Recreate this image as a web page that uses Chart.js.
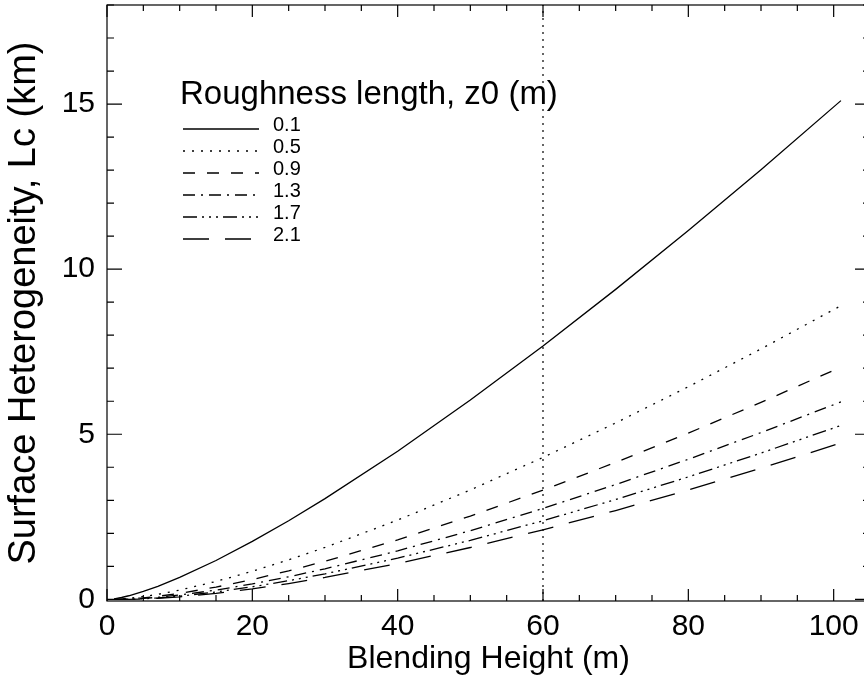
<!DOCTYPE html>
<html>
<head>
<meta charset="utf-8">
<script src="https://cdn.jsdelivr.net/npm/chart.js@4"></script>
<style>
  html, body { margin: 0; padding: 0; overflow: hidden; background: #fff; }
  #wrap { width: 872px; height: 682px; }
</style>
</head>
<body>
<div id="wrap"><canvas id="chartLc" width="872" height="682"></canvas></div>
<script>
// Blending height (m) and Lc (km) for each roughness length
const heights = [1, 2, 3, 5, 7, 10, 15, 20, 25, 30, 40, 50, 60, 70, 80, 90, 101];
const z0Labels = ["0.1", "0.5", "0.9", "1.3", "1.7", "2.1"];
const lcZ01 = [0.017, 0.056, 0.109, 0.239, 0.395, 0.663, 1.177, 1.754, 2.382, 3.050, 4.487, 6.035, 7.673, 9.388, 11.171, 13.014, 15.104];
const lcZ05 = [0.002, 0.012, 0.030, 0.083, 0.152, 0.280, 0.542, 0.851, 1.196, 1.572, 2.400, 3.314, 4.298, 5.342, 6.439, 7.584, 8.894];
const lcZ09 = [0.000, 0.004, 0.014, 0.046, 0.092, 0.181, 0.371, 0.601, 0.863, 1.153, 1.800, 2.522, 3.307, 4.147, 5.034, 5.965, 7.033];
const lcZ13 = [0.000, 0.001, 0.007, 0.028, 0.062, 0.130, 0.280, 0.467, 0.683, 0.924, 1.468, 2.081, 2.753, 3.476, 4.243, 5.050, 5.980];
const lcZ17 = [0.001, 0.000, 0.003, 0.018, 0.044, 0.098, 0.222, 0.380, 0.565, 0.773, 1.247, 1.786, 2.381, 3.024, 3.708, 4.431, 5.266];
const lcZ21 = [0.002, 0.000, 0.001, 0.012, 0.032, 0.076, 0.181, 0.317, 0.479, 0.663, 1.086, 1.570, 2.107, 2.690, 3.313, 3.972, 4.735];
const xTicks = [0, 20, 40, 60, 80, 100];
const yTicks = [0, 5, 10, 15];
const markerHeight = 60;

const series = [lcZ01, lcZ05, lcZ09, lcZ13, lcZ17, lcZ21];
const dashes = [[], [2, 7], [12, 12], [12, 6, 2, 6], [14, 5, 2, 5, 2, 5, 2, 5], [26, 16]];

const X_MIN = 0, X_MAX = 105, Y_MIN = -0.05, Y_MAX = 18;
const FONT = "'Liberation Sans', Arial, sans-serif";

const datasets = series.map((vals, i) => ({
  label: z0Labels[i],
  data: heights.map((h, j) => ({ x: h, y: vals[j] })),
  borderColor: "#000",
  borderWidth: 1.3,
  borderDash: dashes[i],
  pointRadius: 0,
  tension: 0,
  fill: false,
}));

datasets.push({
  label: "marker",
  data: [{ x: markerHeight, y: Y_MIN }, { x: markerHeight, y: Y_MAX }],
  borderColor: "#000",
  borderWidth: 1.2,
  borderDash: [2, 5],
  pointRadius: 0,
  fill: false,
});

// IDL-style box with inward ticks on all four sides
const boxTicks = {
  id: "boxTicks",
  afterDatasetsDraw(chart) {
    const { ctx, chartArea: a, scales } = chart;
    const xs = scales.x, ys = scales.y;
    ctx.save();
    ctx.strokeStyle = "#000";
    ctx.lineWidth = 1.2;
    ctx.strokeRect(a.left, a.top, a.right - a.left, a.bottom - a.top);
    ctx.beginPath();
    for (let v = X_MIN; v <= X_MAX; v += 5) {
      const px = xs.getPixelForValue(v);
      const len = v % 20 === 0 ? 12 : 6;
      ctx.moveTo(px, a.bottom); ctx.lineTo(px, a.bottom - len);
      ctx.moveTo(px, a.top); ctx.lineTo(px, a.top + len);
    }
    for (let v = 0; v <= Y_MAX; v += 1) {
      const py = ys.getPixelForValue(v);
      const len = v % 5 === 0 ? 15 : 7;
      ctx.moveTo(a.left, py); ctx.lineTo(a.left + len, py);
      ctx.moveTo(a.right, py); ctx.lineTo(a.right - len, py);
    }
    ctx.stroke();
    ctx.restore();
  },
};

// legend in the upper left
const roughLegend = {
  id: "roughLegend",
  afterDraw(chart) {
    const ctx = chart.ctx;
    ctx.save();
    ctx.fillStyle = "#000";
    ctx.font = "33px " + FONT;
    ctx.textBaseline = "alphabetic";
    ctx.fillText("Roughness length, z0 (m)", 180, 104);
    ctx.font = "20px " + FONT;
    ctx.textBaseline = "middle";
    z0Labels.forEach((lab, i) => {
      const y = 125 + i * 22;
      ctx.strokeStyle = "#000";
      ctx.lineWidth = 1.3;
      ctx.setLineDash(dashes[i]);
      ctx.beginPath();
      ctx.moveTo(183, y + 4);
      ctx.lineTo(259, y + 4);
      ctx.stroke();
      ctx.fillText(lab, 273, y);
    });
    ctx.restore();
  },
};

const ctxLc = document.getElementById("chartLc").getContext("2d");
const lcChart = new Chart(ctxLc, {
  type: "line",
  data: { datasets: datasets },
  plugins: [boxTicks, roughLegend],
  options: {
    responsive: false,
    animation: false,
    layout: { padding: { left: 0, right: 2, top: 5, bottom: 0 } },
    plugins: { legend: { display: false }, tooltip: { enabled: false } },
    scales: {
      x: {
        type: "linear",
        min: X_MIN,
        max: X_MAX,
        afterBuildTicks: (scale) => { scale.ticks = xTicks.map((v) => ({ value: v })); },
        afterFit: (scale) => {
          scale.height = 81;
          scale.paddingLeft = 0;
          scale.paddingRight = 0;
        },
        grid: { display: false, drawTicks: false },
        border: { display: false },
        ticks: { color: "#000", font: { family: FONT, size: 30 }, padding: 8, maxRotation: 0 },
        title: {
          display: true,
          text: "Blending Height (m)",
          color: "#000",
          font: { family: FONT, size: 32 },
          padding: { top: 0, bottom: 4 },
        },
      },
      y: {
        type: "linear",
        min: Y_MIN,
        max: Y_MAX,
        afterBuildTicks: (scale) => { scale.ticks = yTicks.map((v) => ({ value: v })); },
        afterFit: (scale) => {
          scale.width = 107;
          scale.paddingTop = 0;
          scale.paddingBottom = 0;
        },
        grid: { display: false, drawTicks: false },
        border: { display: false },
        ticks: { color: "#000", font: { family: FONT, size: 30 }, padding: 12 },
        title: {
          display: true,
          text: "Surface Heterogeneity, Lc (km)",
          color: "#000",
          font: { family: FONT, size: 38 },
          padding: { top: 2, bottom: 0 },
        },
      },
    },
  },
});
</script>
</body>
</html>
